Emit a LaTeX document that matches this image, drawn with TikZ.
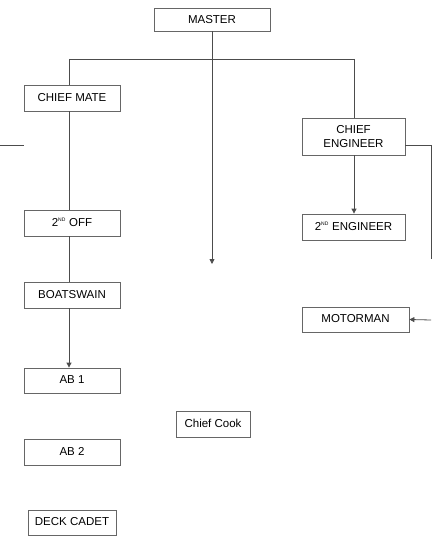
\documentclass[tikz,border=0pt]{standalone}
\usepackage{fontspec}
\setmainfont{Liberation Sans}
\usetikzlibrary{arrows.meta}
\begin{document}
\begin{tikzpicture}[x=1pt,y=-1pt,
  box/.style={draw=black!60, line width=0.8pt, inner sep=0pt,
    font=\fontsize{11.5}{13.5}\selectfont, text=black, text height=8.3pt, text depth=2pt},
  box2/.style={draw=black!60, line width=0.8pt, inner sep=0pt, align=center,
    font=\fontsize{11.5}{13.5}\selectfont, text=black},
  conn/.style={draw=black!70, line width=0.8pt},
  arr/.style={conn, -{Triangle[length=5pt,width=5pt]}}
]
\useasboundingbox (0,0) rectangle (436,543);
\newcommand{\nd}{\textsuperscript{\fontsize{5}{5}\selectfont ND}}
% boxes
\node[box2, minimum width=116, minimum height=23] (master) at (212,19.5) {MASTER};
\node[box, minimum width=96, minimum height=26] (cmate) at (72,98) {CHIEF MATE};
\node[box2, minimum width=103, minimum height=37] (ceng) at (353.5,136.5) {CHIEF\\ENGINEER};
\node[box, minimum width=96, minimum height=26] (off2) at (72,223) {2\nd{} OFF};
\node[box, minimum width=103, minimum height=26] (eng2) at (353.5,227) {2\nd{} ENGINEER};
\node[box, minimum width=96, minimum height=26] (bosun) at (72,295) {BOATSWAIN};
\node[box, minimum width=107, minimum height=25] (motor) at (355.5,319.5) {MOTORMAN};
\node[box, minimum width=96, minimum height=25] (ab1) at (72,380.5) {AB 1};
\node[box, minimum width=74, minimum height=26] (cook) at (213,424) {Chief Cook};
\node[box, minimum width=96, minimum height=26] (ab2) at (72,452) {AB 2};
\node[box, minimum width=88, minimum height=25] (cadet) at (72,522.5) {DECK CADET};
% coordinates
\coordinate (busL) at (69,59);
\coordinate (busR) at (354,59);
\coordinate (mend) at (212,264);
\coordinate (stubA) at (0,145);
\coordinate (stubB) at (24,145);
\coordinate (ceR) at (431,145);
\coordinate (ceEnd) at (431,259);
\coordinate (moStart) at (431,320);
% connectors
\draw[conn] (busL) -- (busR);
\draw[conn] (busL) -- (busL |- cmate.north);
\draw[conn] (busR) -- (busR |- ceng.north);
\draw[arr] (master.south) -- (mend);
\draw[conn] (stubA) -- (stubB);
\draw[conn] (busL |- cmate.south) -- (busL |- off2.north);
\draw[conn] (busL |- off2.south) -- (busL |- bosun.north);
\draw[arr] (busL |- bosun.south) -- (busL |- ab1.north);
\draw[arr] (busR |- ceng.south) -- (busR |- eng2.north);
\draw[conn] (ceng.east |- ceR) -- (ceR) -- (ceEnd);
\draw[arr] (moStart) -- (motor.east);
\end{tikzpicture}
\end{document}
